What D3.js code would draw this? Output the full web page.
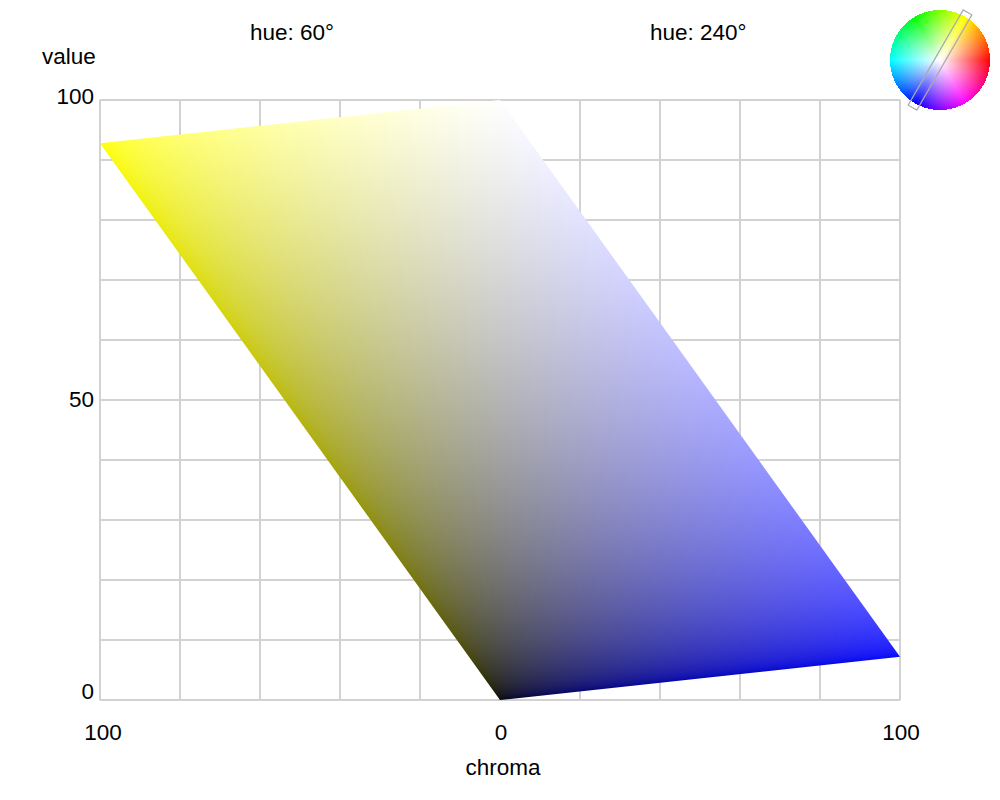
<!DOCTYPE html>
<html>
<head>
<meta charset="utf-8">
<script src="https://cdn.jsdelivr.net/npm/d3@7"></script>
<style>
	body { margin: 0; background: white; }
	svg { display: block; font-family: 'Liberation Sans', Arial, sans-serif; }
</style>
</head>
<body>
<svg width="1000" height="800"></svg>
<script>
// slice through colour space: hue 60 on the left, hue 240 on the right
let hues = [60, 240];
let hueLabels = ['hue: 60°', 'hue: 240°'];
let hueLabelChroma = [-50, 50];
// corners of the slice (signed chroma, value): yellow, white, blue, black
let cornerChroma = [-100, 0, 100, 0];
let cornerValue = [92.8, 100, 7.2, 0];
let chromaTicks = [-100, 0, 100];
let valueTicks = [0, 50, 100];
let valueTickShift = [-1, 7, 4];	// baseline offsets of the value labels

let svg = d3.select('svg');
let x = d3.scaleLinear().domain([-100, 100]).range([100, 900]);
let y = d3.scaleLinear().domain([0, 100]).range([700, 100]);

// grid
let grid = svg.append('g').style('stroke', '#d2d2d2').style('stroke-width', '2px');
grid.selectAll('line.v').data(x.ticks(10)).join('line').attr('class', 'v')
	.attr('x1', d => x(d)).attr('x2', d => x(d)).attr('y1', y(0)).attr('y2', y(100));
grid.selectAll('line.h').data(y.ticks(10)).join('line').attr('class', 'h')
	.attr('x1', x(-100)).attr('x2', x(100)).attr('y1', d => y(d)).attr('y2', d => y(d));

// colour of a point: gray of the value plus chroma along the hue direction (linear light)
let gamma = 2.0;
function sliceColor(c, v) {
	let side = c < 0 ? 0 : 2;
	let g = cornerValue[side] / 100;
	let end = side == 0 ? [1, 1, 0] : [0, 0, 1];
	let k = Math.abs(c) / 100;
	return end.map(e => {
		let lin = v / 100 + k * (e - g);
		lin = Math.max(0, Math.min(1, lin));
		return Math.round(255 * Math.pow(lin, 1 / gamma));
	});
}

let cw = 800, ch = 600;
let canvas = document.createElement('canvas');
canvas.width = cw; canvas.height = ch;
let ctx = canvas.getContext('2d');
let img = ctx.createImageData(cw, ch);
for (let j = 0; j < ch; j++) {
	let v = y.invert(100 + j + 0.5);
	for (let i = 0; i < cw; i++) {
		let c = x.invert(100 + i + 0.5);
		let rgb = sliceColor(c, v);
		let p = 4 * (j * cw + i);
		img.data[p] = rgb[0]; img.data[p + 1] = rgb[1]; img.data[p + 2] = rgb[2]; img.data[p + 3] = 255;
	}
}
ctx.putImageData(img, 0, 0);

let corners = cornerChroma.map((c, i) => [x(c), y(cornerValue[i])]);
svg.append('clipPath').attr('id', 'slice').append('path').attr('d', 'M' + corners.join('L') + 'Z');
svg.append('image').attr('x', 100).attr('y', 100).attr('width', cw).attr('height', ch)
	.attr('href', canvas.toDataURL()).attr('clip-path', 'url(#slice)');

// labels
let text = svg.append('g').style('font-size', '22.5px').style('fill', 'black');
text.selectAll('text.vt').data(valueTicks).join('text').attr('class', 'vt')
	.attr('x', 94).attr('y', (d, i) => y(d) + valueTickShift[i])
	.attr('text-anchor', 'end').text(d => d);
text.selectAll('text.ct').data(chromaTicks).join('text').attr('class', 'ct')
	.attr('x', d => x(d) + (d == -100 ? 3 : 1)).attr('y', 740)
	.attr('text-anchor', 'middle').text(d => Math.abs(d));
text.append('text').attr('x', 69).attr('y', 64).attr('text-anchor', 'middle').text('value');
text.append('text').attr('x', 503).attr('y', 775).attr('text-anchor', 'middle').text('chroma');
text.selectAll('text.hue').data(hueLabels).join('text').attr('class', 'hue')
	.attr('x', (d, i) => x(hueLabelChroma[i]) - 50).attr('y', 40)
	.attr('text-anchor', 'start').text(d => d);

// hue wheel with the slice marked on it
let wr = 50, wcx = 940, wcy = 60;
let wc = document.createElement('canvas');
wc.width = 2 * wr; wc.height = 2 * wr;
let wctx = wc.getContext('2d');
let wimg = wctx.createImageData(2 * wr, 2 * wr);
for (let j = 0; j < 2 * wr; j++) {
	for (let i = 0; i < 2 * wr; i++) {
		let dx = i + 0.5 - wr, dy = wr - (j + 0.5);
		let r = Math.sqrt(dx * dx + dy * dy);
		if (r > wr) continue;
		let h = (Math.atan2(dy, dx) * 180 / Math.PI + 360) % 360;
		let full = d3.rgb(d3.hsl(h, 1, 0.5));
		let s = r / wr;
		let p = 4 * (j * 2 * wr + i);
		wimg.data[p] = 255 * (1 - s) + full.r * s;
		wimg.data[p + 1] = 255 * (1 - s) + full.g * s;
		wimg.data[p + 2] = 255 * (1 - s) + full.b * s;
		wimg.data[p + 3] = 255;
	}
}
wctx.putImageData(wimg, 0, 0);
svg.append('image').attr('x', wcx - wr).attr('y', wcy - wr).attr('width', 2 * wr).attr('height', 2 * wr)
	.attr('href', wc.toDataURL());
svg.append('rect').attr('x', -55).attr('y', -5).attr('width', 110).attr('height', 10)
	.attr('transform', 'translate(' + wcx + ',' + wcy + ') rotate(' + (-hues[0]) + ')')
	.style('fill', 'none').style('stroke', '#aaa').style('stroke-width', '1.2px');
</script>
</body>
</html>
